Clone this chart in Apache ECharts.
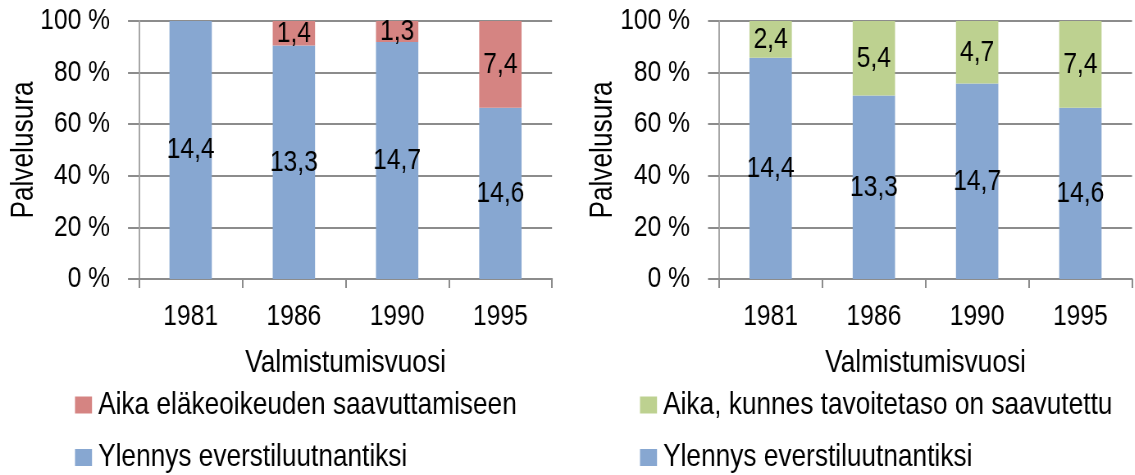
<!DOCTYPE html>
<html>
<head>
<meta charset="utf-8">
<script src="https://cdn.jsdelivr.net/npm/echarts@6/dist/echarts.min.js"></script>
<style>
  html, body { margin: 0; padding: 0; background: #fff; overflow: hidden; }
  /* the original uses a narrow font; the whole canvas is squeezed horizontally to get it */
  #chart { width: 1384px; height: 475px; transform: scaleX(0.82); transform-origin: 0 0; }
</style>
</head>
<body>
<div id="chart"></div>
<script>
// data
const years = ['1981', '1986', '1990', '1995']
const promotion = [14.4, 13.3, 14.7, 14.6]   // Ylennys everstiluutnantiksi
const pensionGap = [0, 1.4, 1.3, 7.4]        // Aika eläkeoikeuden saavuttamiseen
const targetGap = [2.4, 5.4, 4.7, 7.4]       // Aika, kunnes tavoitetaso on saavutettu
const yTicks = [0, 20, 40, 60, 80, 100]

const K = 0.82                 // horizontal squeeze, see css
const X = v => v / K           // screen px -> option px (horizontal only)

const FONT = "'Liberation Sans', Arial, sans-serif"
const BLUE = '#87a7d1'
const RED = '#d58482'
const GREEN = '#bdd190'
const GRID = '#8c8c8c'

// 100 % stacked: share of each part, label shows the raw value
const share = (part, other) => part.map((v, i) => [i, v / (v + other[i]) * 100, v])

const fmt = p => p.data[2] ? p.data[2].toFixed(1).replace('.', ',') : ''

const label = {
  show: true,
  position: 'inside',
  color: '#000',
  fontFamily: FONT,
  fontSize: 30,
  formatter: fmt
}

const xAxis = (idx) => ({
  type: 'category',
  gridIndex: idx,
  data: years,
  name: 'Valmistumisvuosi',
  nameLocation: 'middle',
  nameGap: 68,
  nameTextStyle: { color: '#000', fontFamily: FONT, fontSize: 32 },
  axisLine: { show: true, lineStyle: { color: GRID, width: 2 } },
  axisTick: { show: true, length: 9, lineStyle: { color: GRID, width: 2 } },
  axisLabel: { color: '#000', fontFamily: FONT, fontSize: 30, margin: 23 }
})

const yAxis = (idx) => ({
  type: 'value',
  gridIndex: idx,
  min: yTicks[0],
  max: yTicks[yTicks.length - 1],
  interval: 20,
  axisLine: { show: true, lineStyle: { color: '#a6a6a6', width: 2 } },
  axisTick: { show: true, length: X(11), lineStyle: { color: GRID, width: 2 } },
  splitLine: { show: true, lineStyle: { color: GRID, width: 2 } },
  axisLabel: { color: '#000', fontFamily: FONT, fontSize: 30, margin: X(29), formatter: '{value} %' }
})

// y-axis title: rotated text, so undo the squeeze on its thickness and apply it on its length
const yName = (cx) => ({
  type: 'text',
  x: X(cx),
  y: 150,
  rotation: Math.PI / 2,
  scaleX: K,
  scaleY: 1 / K,
  style: {
    text: 'Palvelusura',
    fill: '#000',
    font: '32px ' + FONT,
    textAlign: 'center',
    textVerticalAlign: 'middle'
  }
})

const legend = (left, names) => ({
  orient: 'vertical',
  left: X(left),
  top: 389,
  padding: 0,
  itemWidth: X(17),
  itemHeight: 17,
  itemGap: 20.5,
  itemStyle: { borderWidth: 0 },
  icon: 'rect',
  textStyle: { color: '#000', fontFamily: FONT, fontSize: 32, lineHeight: 32, padding: [0, 0, 0, X(2)] },
  data: names
})

const option = {
  animation: false,
  backgroundColor: '#fff',
  grid: [
    { left: X(139), top: 21, width: X(413), height: 258 },
    { left: X(719), top: 21, width: X(413), height: 258 }
  ],
  xAxis: [xAxis(0), xAxis(1)],
  yAxis: [yAxis(0), yAxis(1)],
  graphic: [yName(24), yName(603)],
  legend: [
    legend(75, ['Aika eläkeoikeuden saavuttamiseen', 'Ylennys everstiluutnantiksi']),
    legend(640, ['Aika, kunnes tavoitetaso on saavutettu', 'Ylennys everstiluutnantiksi'])
  ],
  series: [
    {
      name: 'Ylennys everstiluutnantiksi', type: 'bar', xAxisIndex: 0, yAxisIndex: 0,
      stack: 'a', barWidth: '41%', itemStyle: { color: BLUE }, label,
      data: share(promotion, pensionGap)
    },
    {
      name: 'Aika eläkeoikeuden saavuttamiseen', type: 'bar', xAxisIndex: 0, yAxisIndex: 0,
      stack: 'a', barWidth: '41%', itemStyle: { color: RED }, label,
      data: share(pensionGap, promotion)
    },
    {
      name: 'Ylennys everstiluutnantiksi', type: 'bar', xAxisIndex: 1, yAxisIndex: 1,
      stack: 'b', barWidth: '41%', itemStyle: { color: BLUE }, label,
      data: share(promotion, targetGap)
    },
    {
      name: 'Aika, kunnes tavoitetaso on saavutettu', type: 'bar', xAxisIndex: 1, yAxisIndex: 1,
      stack: 'b', barWidth: '41%', itemStyle: { color: GREEN }, label,
      data: share(targetGap, promotion)
    }
  ]
}

const chart = echarts.init(document.getElementById('chart'), null, { renderer: 'canvas' })
chart.setOption(option)
</script>
</body>
</html>
